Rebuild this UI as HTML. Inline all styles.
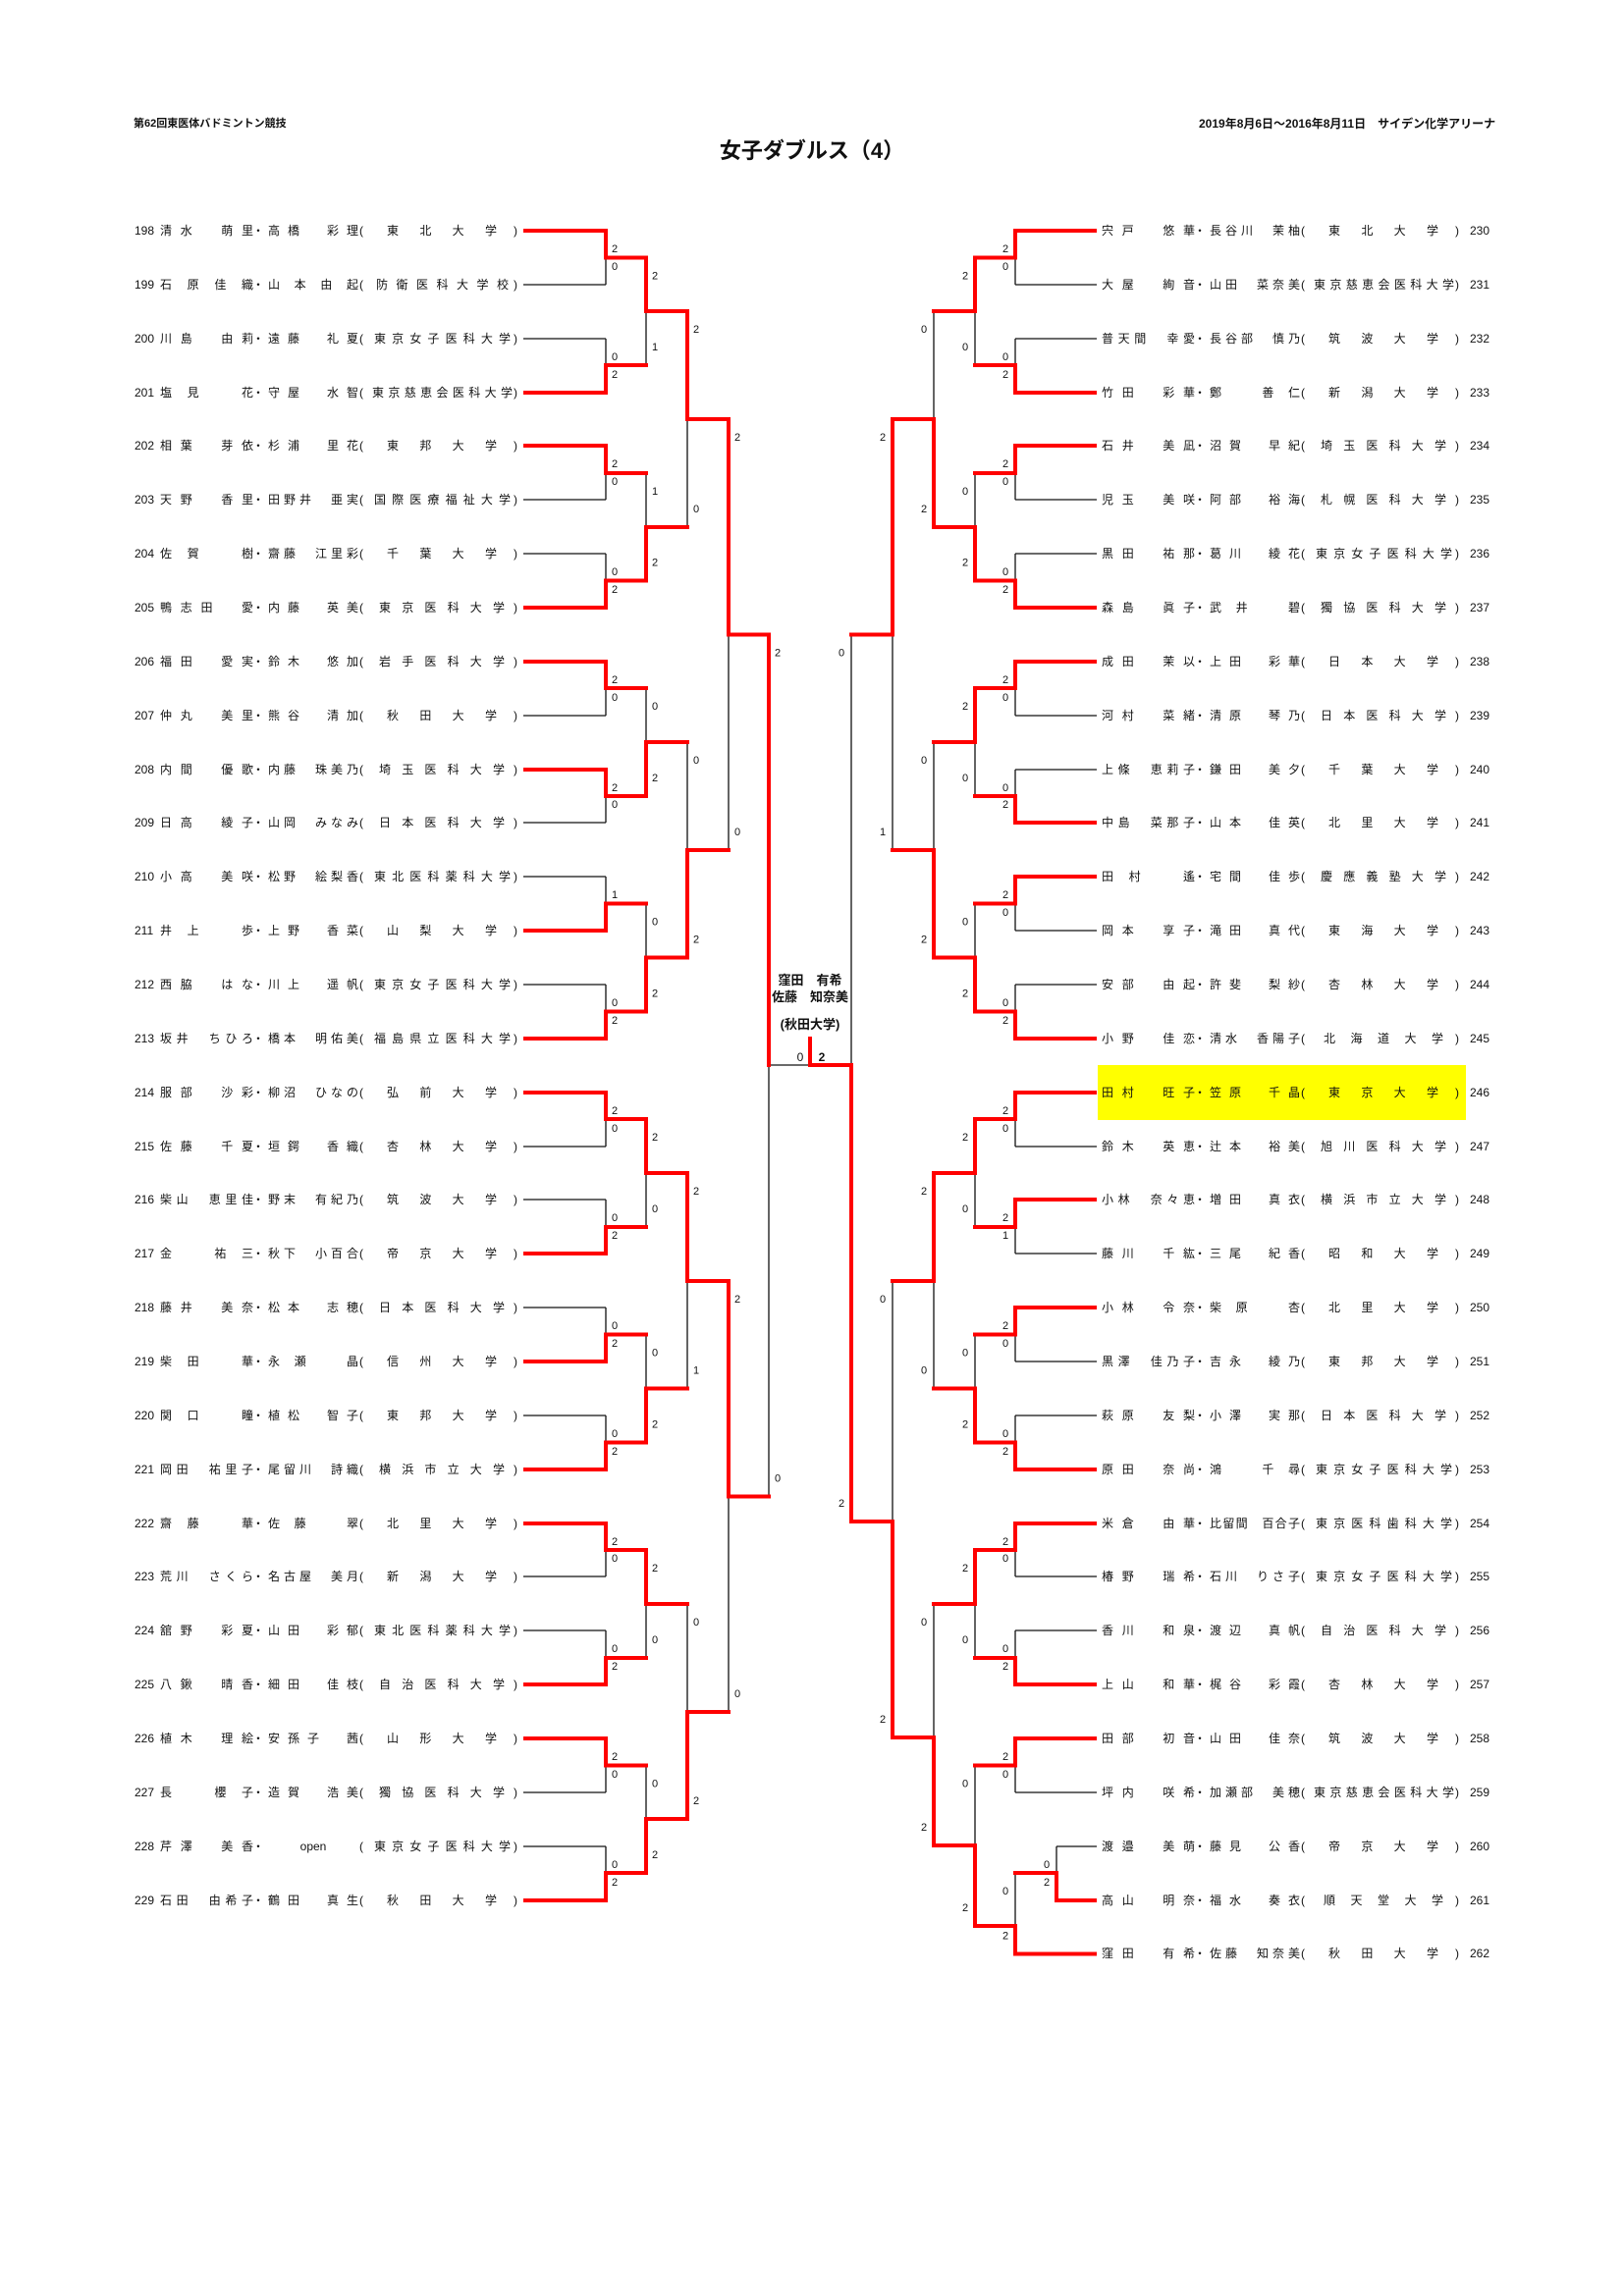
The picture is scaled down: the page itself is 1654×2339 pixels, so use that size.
<!DOCTYPE html>
<html><head><meta charset="utf-8">
<style>
html,body{margin:0;padding:0;background:#fff;}
#pg{position:relative;width:1654px;height:2339px;overflow:hidden;background:#fff;font-family:"Liberation Sans","Noto Sans CJK JP",sans-serif;color:#111;}
svg{position:absolute;left:0;top:0;}
.h{position:absolute;font-size:11px;white-space:nowrap;font-weight:bold;}
.t{position:absolute;left:0;width:1654px;top:136px;text-align:center;font-size:22px;font-weight:bold;}
.r{position:absolute;left:0;width:1654px;height:18px;font-size:12px;line-height:18px;}
.r span{position:absolute;top:0;white-space:nowrap;display:block;box-sizing:border-box;}
.n{left:137px;font-family:"Liberation Sans Narrow","Liberation Sans",sans-serif;font-size:12px;}
.a{left:163px;width:95px;}
.d{left:257px;width:12px;text-align:center;}
.b{left:273px;width:92px;}
.p{left:366px;}
.u{left:376px;width:146px;}
.q{left:523px;}
.a,.b,.u{text-align:justify;text-align-last:justify;text-justify:inter-character;}
.R .a{left:1122px}.R .d{left:1216px}.R .b{left:1232px}.R .p{left:1325px}.R .u{left:1335px}.R .q{left:1482px}.R .n{left:1497px}
.u4{padding:0 16px 0 18px}.u5{padding:0 11px 0 13px}.u6{padding:0 8px 0 10px}.u7{padding:0 4px 0 7px}.u8{padding:0 2px 0 5px}.u9{padding:0 0 0 3px}
.c{position:absolute;left:725px;width:200px;text-align:center;font-size:13px;font-weight:bold;}
</style></head><body><div id="pg">
<svg width="1654" height="2339" viewBox="0 0 1654 2339">
<rect x="1118" y="1085" width="375" height="56" fill="#ffff00"/>
<path fill="none" stroke="#111" stroke-width="1.3" d="
M533 290H617 M533 345H617 M533 509H617 M533 564H617 M533 729H617 M533 838H617 M533 893H617 M533 1003H617 M533 1168H617 M533 1222H617 M533 1332H617 M533 1442H617 M533 1606H617 M533 1661H617 M533 1826H617 M533 1881H617
M617 235V290 M617 345V400 M617 454V509 M617 564V619 M617 674V729 M617 784V838 M617 893V948 M617 1003V1058 M617 1113V1168 M617 1222V1277 M617 1332V1387 M617 1442V1497 M617 1552V1606 M617 1661V1716 M617 1771V1826 M617 1881V1936
M658 262.5V372 M658 482V591.5 M658 701V811 M658 920.5V1030.5 M658 1140V1250 M658 1359.5V1469.5 M658 1579V1689 M658 1798.5V1908
M700 317V537 M700 756V975.5 M700 1195V1414.5 M700 1634V1853
M742 427V866 M742 1305V1744
M783 646.5V1524.5 M783 1085H825
M1034 290H1117 M1034 345H1117 M1034 509H1117 M1034 564H1117 M1034 729H1117 M1034 784H1117 M1034 948H1117 M1034 1003H1117 M1034 1168H1117 M1034 1277H1117 M1034 1387H1117 M1034 1442H1117 M1034 1606H1117 M1034 1661H1117 M1034 1826H1117 M1076 1881H1117
M1034 235V290 M1034 345V400 M1034 454V509 M1034 564V619 M1034 674V729 M1034 784V838 M1034 893V948 M1034 1003V1058 M1034 1113V1168 M1034 1222V1277 M1034 1332V1387 M1034 1442V1497 M1034 1552V1606 M1034 1661V1716 M1034 1771V1826 M1034 1908V1990.5
M1076 1881V1936
M993 262.5V372 M993 482V591.5 M993 701V811 M993 920.5V1030.5 M993 1140V1250 M993 1359.5V1469.5 M993 1579V1689 M993 1798.5V1962
M951 317V537 M951 756V975.5 M951 1195V1414.5 M951 1634V1880
M909 427V866 M909 1305V1770
M867 646.5V1550"/>
<path fill="none" stroke="#ff0000" stroke-width="4" stroke-linecap="square" stroke-linejoin="miter" d="
M535 235H617V262.5H658 M535 400H617V372H658 M535 454H617V482H658 M535 619H617V591.5H658 M535 674H617V701H658 M535 784H617V811H658 M535 948H617V920.5H658 M535 1058H617V1030.5H658 M535 1113H617V1140H658 M535 1277H617V1250H658 M535 1387H617V1359.5H658 M535 1497H617V1469.5H658 M535 1552H617V1579H658 M535 1716H617V1689H658 M535 1771H617V1798.5H658 M535 1936H617V1908H658
M658 262.5V317H700 M658 591.5V537H700 M658 811V756H700 M658 1030.5V975.5H700 M658 1140V1195H700 M658 1469.5V1414.5H700 M658 1579V1634H700 M658 1908V1853H700
M700 317V427H742 M700 975.5V866H742 M700 1195V1305H742 M700 1853V1744H742
M742 427V646.5H783 M742 1305V1524.5H783
M783 646.5V1085
M825 1085H867 M825 1058V1085
M1115 235H1034V262.5H993 M1115 400H1034V372H993 M1115 454H1034V482H993 M1115 619H1034V591.5H993 M1115 674H1034V701H993 M1115 838H1034V811H993 M1115 893H1034V920.5H993 M1115 1058H1034V1030.5H993 M1115 1113H1034V1140H993 M1115 1222H1034V1250H993 M1115 1332H1034V1359.5H993 M1115 1497H1034V1469.5H993 M1115 1552H1034V1579H993 M1115 1716H1034V1689H993 M1115 1771H1034V1798.5H993
M1115 1936H1076V1908H1034 M1115 1990.5H1034V1962H993
M993 262.5V317H951 M993 591.5V537H951 M993 701V756H951 M993 1030.5V975.5H951 M993 1140V1195H951 M993 1469.5V1414.5H951 M993 1579V1634H951 M993 1962V1880H951
M951 537V427H909 M951 975.5V866H909 M951 1195V1305H909 M951 1880V1770H909
M909 427V646.5H867 M909 1770V1550H867
M867 1550V1085"/>
<g font-family="Liberation Sans, sans-serif" font-size="11" text-anchor="middle" dominant-baseline="central" fill="#111">
<text x="626" y="254">2</text><text x="626" y="272">0</text>
<text x="626" y="364">0</text><text x="626" y="382">2</text>
<text x="626" y="473">2</text><text x="626" y="491">0</text>
<text x="626" y="583">0</text><text x="626" y="601">2</text>
<text x="626" y="693">2</text><text x="626" y="711">0</text>
<text x="626" y="803">2</text><text x="626" y="820">0</text>
<text x="626" y="912">1</text>
<text x="626" y="1022">0</text><text x="626" y="1040">2</text>
<text x="626" y="1132">2</text><text x="626" y="1150">0</text>
<text x="626" y="1241">0</text><text x="626" y="1259">2</text>
<text x="626" y="1351">0</text><text x="626" y="1369">2</text>
<text x="626" y="1461">0</text><text x="626" y="1479">2</text>
<text x="626" y="1571">2</text><text x="626" y="1588">0</text>
<text x="626" y="1680">0</text><text x="626" y="1698">2</text>
<text x="626" y="1790">2</text><text x="626" y="1808">0</text>
<text x="626" y="1900">0</text><text x="626" y="1918">2</text>
<text x="667" y="281.5">2</text><text x="667" y="354">1</text>
<text x="667" y="501">1</text><text x="667" y="573.5">2</text>
<text x="667" y="720">0</text><text x="667" y="793">2</text>
<text x="667" y="939.5">0</text><text x="667" y="1012.5">2</text>
<text x="667" y="1159">2</text><text x="667" y="1232">0</text>
<text x="667" y="1378.5">0</text><text x="667" y="1451.5">2</text>
<text x="667" y="1598">2</text><text x="667" y="1671">0</text>
<text x="667" y="1817.5">0</text><text x="667" y="1890">2</text>
<text x="709" y="336">2</text><text x="709" y="519">0</text>
<text x="709" y="775">0</text><text x="709" y="957.5">2</text>
<text x="709" y="1214">2</text><text x="709" y="1396.5">1</text>
<text x="709" y="1653">0</text><text x="709" y="1835">2</text>
<text x="751" y="446">2</text><text x="751" y="848">0</text>
<text x="751" y="1324">2</text><text x="751" y="1726">0</text>
<text x="792" y="665.5">2</text><text x="792" y="1506.5">0</text>
<text x="1024" y="254">2</text><text x="1024" y="272">0</text>
<text x="1024" y="364">0</text><text x="1024" y="382">2</text>
<text x="1024" y="473">2</text><text x="1024" y="491">0</text>
<text x="1024" y="583">0</text><text x="1024" y="601">2</text>
<text x="1024" y="693">2</text><text x="1024" y="711">0</text>
<text x="1024" y="803">0</text><text x="1024" y="820">2</text>
<text x="1024" y="912">2</text><text x="1024" y="930">0</text>
<text x="1024" y="1022">0</text><text x="1024" y="1040">2</text>
<text x="1024" y="1132">2</text><text x="1024" y="1150">0</text>
<text x="1024" y="1241">2</text><text x="1024" y="1259">1</text>
<text x="1024" y="1351">2</text><text x="1024" y="1369">0</text>
<text x="1024" y="1461">0</text><text x="1024" y="1479">2</text>
<text x="1024" y="1571">2</text><text x="1024" y="1588">0</text>
<text x="1024" y="1680">0</text><text x="1024" y="1698">2</text>
<text x="1024" y="1790">2</text><text x="1024" y="1808">0</text>
<text x="1024" y="1927">0</text><text x="1024" y="1972.5">2</text>
<text x="1066" y="1900">0</text><text x="1066" y="1918">2</text>
<text x="983" y="281.5">2</text><text x="983" y="354">0</text>
<text x="983" y="501">0</text><text x="983" y="573.5">2</text>
<text x="983" y="720">2</text><text x="983" y="793">0</text>
<text x="983" y="939.5">0</text><text x="983" y="1012.5">2</text>
<text x="983" y="1159">2</text><text x="983" y="1232">0</text>
<text x="983" y="1378.5">0</text><text x="983" y="1451.5">2</text>
<text x="983" y="1598">2</text><text x="983" y="1671">0</text>
<text x="983" y="1817.5">0</text><text x="983" y="1944">2</text>
<text x="941" y="336">0</text><text x="941" y="519">2</text>
<text x="941" y="775">0</text><text x="941" y="957.5">2</text>
<text x="941" y="1214">2</text><text x="941" y="1396.5">0</text>
<text x="941" y="1653">0</text><text x="941" y="1862">2</text>
<text x="899" y="446">2</text><text x="899" y="848">1</text>
<text x="899" y="1324">0</text><text x="899" y="1752">2</text>
<text x="857" y="665.5">0</text><text x="857" y="1532">2</text>
<text x="815" y="1077" font-size="12">0</text><text x="837" y="1077" font-size="12" font-weight="bold">2</text>
</g>
</svg>
<div class="h" style="left:136px;top:117px;">第62回東医体バドミントン競技</div>
<div class="h" style="left:1221px;top:117px;font-size:12px;">2019年8月6日～2016年8月11日　サイデン化学アリーナ</div>
<div class="t">女子ダブルス（4）</div>
<div class="c" style="top:988px;">窪田　有希</div>
<div class="c" style="top:1005px;">佐藤　知奈美</div>
<div class="c" style="top:1033px;">(秋田大学)</div>

<div class="r" style="top:226px"><span class="n">198</span><span class="a">清水　萌里</span><span class="d">・</span><span class="b">高橋　彩理</span><span class="p">(</span><span class="u u4">東北大学</span><span class="q">)</span></div>
<div class="r" style="top:281px"><span class="n">199</span><span class="a">石原佳織</span><span class="d">・</span><span class="b">山本由起</span><span class="p">(</span><span class="u u7">防衛医科大学校</span><span class="q">)</span></div>
<div class="r" style="top:336px"><span class="n">200</span><span class="a">川島　由莉</span><span class="d">・</span><span class="b">遠藤　礼夏</span><span class="p">(</span><span class="u u8">東京女子医科大学</span><span class="q">)</span></div>
<div class="r" style="top:391px"><span class="n">201</span><span class="a">塩見　花</span><span class="d">・</span><span class="b">守屋　水智</span><span class="p">(</span><span class="u u9">東京慈恵会医科大学</span><span class="q">)</span></div>
<div class="r" style="top:445px"><span class="n">202</span><span class="a">相葉　芽依</span><span class="d">・</span><span class="b">杉浦　里花</span><span class="p">(</span><span class="u u4">東邦大学</span><span class="q">)</span></div>
<div class="r" style="top:500px"><span class="n">203</span><span class="a">天野　香里</span><span class="d">・</span><span class="b">田野井　亜実</span><span class="p">(</span><span class="u u8">国際医療福祉大学</span><span class="q">)</span></div>
<div class="r" style="top:555px"><span class="n">204</span><span class="a">佐賀　樹</span><span class="d">・</span><span class="b">齋藤　江里彩</span><span class="p">(</span><span class="u u4">千葉大学</span><span class="q">)</span></div>
<div class="r" style="top:610px"><span class="n">205</span><span class="a">鴨志田　愛</span><span class="d">・</span><span class="b">内藤　英美</span><span class="p">(</span><span class="u u6">東京医科大学</span><span class="q">)</span></div>
<div class="r" style="top:665px"><span class="n">206</span><span class="a">福田　愛実</span><span class="d">・</span><span class="b">鈴木　悠加</span><span class="p">(</span><span class="u u6">岩手医科大学</span><span class="q">)</span></div>
<div class="r" style="top:720px"><span class="n">207</span><span class="a">仲丸　美里</span><span class="d">・</span><span class="b">熊谷　清加</span><span class="p">(</span><span class="u u4">秋田大学</span><span class="q">)</span></div>
<div class="r" style="top:775px"><span class="n">208</span><span class="a">内間　優歌</span><span class="d">・</span><span class="b">内藤　珠美乃</span><span class="p">(</span><span class="u u6">埼玉医科大学</span><span class="q">)</span></div>
<div class="r" style="top:829px"><span class="n">209</span><span class="a">日高　綾子</span><span class="d">・</span><span class="b">山岡　みなみ</span><span class="p">(</span><span class="u u6">日本医科大学</span><span class="q">)</span></div>
<div class="r" style="top:884px"><span class="n">210</span><span class="a">小高　美咲</span><span class="d">・</span><span class="b">松野　絵梨香</span><span class="p">(</span><span class="u u8">東北医科薬科大学</span><span class="q">)</span></div>
<div class="r" style="top:939px"><span class="n">211</span><span class="a">井上　歩</span><span class="d">・</span><span class="b">上野　香菜</span><span class="p">(</span><span class="u u4">山梨大学</span><span class="q">)</span></div>
<div class="r" style="top:994px"><span class="n">212</span><span class="a">西脇　はな</span><span class="d">・</span><span class="b">川上　遥帆</span><span class="p">(</span><span class="u u8">東京女子医科大学</span><span class="q">)</span></div>
<div class="r" style="top:1049px"><span class="n">213</span><span class="a">坂井　ちひろ</span><span class="d">・</span><span class="b">橋本　明佑美</span><span class="p">(</span><span class="u u8">福島県立医科大学</span><span class="q">)</span></div>
<div class="r" style="top:1104px"><span class="n">214</span><span class="a">服部　沙彩</span><span class="d">・</span><span class="b">柳沼　ひなの</span><span class="p">(</span><span class="u u4">弘前大学</span><span class="q">)</span></div>
<div class="r" style="top:1159px"><span class="n">215</span><span class="a">佐藤　千夏</span><span class="d">・</span><span class="b">垣鍔　香織</span><span class="p">(</span><span class="u u4">杏林大学</span><span class="q">)</span></div>
<div class="r" style="top:1213px"><span class="n">216</span><span class="a">柴山　恵里佳</span><span class="d">・</span><span class="b">野末　有紀乃</span><span class="p">(</span><span class="u u4">筑波大学</span><span class="q">)</span></div>
<div class="r" style="top:1268px"><span class="n">217</span><span class="a">金　祐三</span><span class="d">・</span><span class="b">秋下　小百合</span><span class="p">(</span><span class="u u4">帝京大学</span><span class="q">)</span></div>
<div class="r" style="top:1323px"><span class="n">218</span><span class="a">藤井　美奈</span><span class="d">・</span><span class="b">松本　志穂</span><span class="p">(</span><span class="u u6">日本医科大学</span><span class="q">)</span></div>
<div class="r" style="top:1378px"><span class="n">219</span><span class="a">柴田　華</span><span class="d">・</span><span class="b">永瀬　晶</span><span class="p">(</span><span class="u u4">信州大学</span><span class="q">)</span></div>
<div class="r" style="top:1433px"><span class="n">220</span><span class="a">関口　瞳</span><span class="d">・</span><span class="b">植松　智子</span><span class="p">(</span><span class="u u4">東邦大学</span><span class="q">)</span></div>
<div class="r" style="top:1488px"><span class="n">221</span><span class="a">岡田　祐里子</span><span class="d">・</span><span class="b">尾留川　詩織</span><span class="p">(</span><span class="u u6">横浜市立大学</span><span class="q">)</span></div>
<div class="r" style="top:1543px"><span class="n">222</span><span class="a">齋藤　華</span><span class="d">・</span><span class="b">佐藤　翠</span><span class="p">(</span><span class="u u4">北里大学</span><span class="q">)</span></div>
<div class="r" style="top:1597px"><span class="n">223</span><span class="a">荒川　さくら</span><span class="d">・</span><span class="b">名古屋　美月</span><span class="p">(</span><span class="u u4">新潟大学</span><span class="q">)</span></div>
<div class="r" style="top:1652px"><span class="n">224</span><span class="a">舘野　彩夏</span><span class="d">・</span><span class="b">山田　彩郁</span><span class="p">(</span><span class="u u8">東北医科薬科大学</span><span class="q">)</span></div>
<div class="r" style="top:1707px"><span class="n">225</span><span class="a">八鍬　晴香</span><span class="d">・</span><span class="b">細田　佳枝</span><span class="p">(</span><span class="u u6">自治医科大学</span><span class="q">)</span></div>
<div class="r" style="top:1762px"><span class="n">226</span><span class="a">植木　理絵</span><span class="d">・</span><span class="b">安孫子　茜</span><span class="p">(</span><span class="u u4">山形大学</span><span class="q">)</span></div>
<div class="r" style="top:1817px"><span class="n">227</span><span class="a">長　櫻子</span><span class="d">・</span><span class="b">造賀　浩美</span><span class="p">(</span><span class="u u6">獨協医科大学</span><span class="q">)</span></div>
<div class="r" style="top:1872px"><span class="n">228</span><span class="a">芹澤　美香</span><span class="d">・</span><span class="b" style="text-align:center;text-align-last:center">open</span><span class="p">(</span><span class="u u8">東京女子医科大学</span><span class="q">)</span></div>
<div class="r" style="top:1927px"><span class="n">229</span><span class="a">石田　由希子</span><span class="d">・</span><span class="b">鶴田　真生</span><span class="p">(</span><span class="u u4">秋田大学</span><span class="q">)</span></div>

<div class="r R" style="top:226px"><span class="a">宍戸　悠華</span><span class="d">・</span><span class="b">長谷川　茉柚</span><span class="p">(</span><span class="u u4">東北大学</span><span class="q">)</span><span class="n">230</span></div>
<div class="r R" style="top:281px"><span class="a">大屋　絢音</span><span class="d">・</span><span class="b">山田　菜奈美</span><span class="p">(</span><span class="u u9">東京慈恵会医科大学</span><span class="q">)</span><span class="n">231</span></div>
<div class="r R" style="top:336px"><span class="a">普天間　幸愛</span><span class="d">・</span><span class="b">長谷部　慎乃</span><span class="p">(</span><span class="u u4">筑波大学</span><span class="q">)</span><span class="n">232</span></div>
<div class="r R" style="top:391px"><span class="a">竹田　彩華</span><span class="d">・</span><span class="b">鄭　善仁</span><span class="p">(</span><span class="u u4">新潟大学</span><span class="q">)</span><span class="n">233</span></div>
<div class="r R" style="top:445px"><span class="a">石井　美凪</span><span class="d">・</span><span class="b">沼賀　早紀</span><span class="p">(</span><span class="u u6">埼玉医科大学</span><span class="q">)</span><span class="n">234</span></div>
<div class="r R" style="top:500px"><span class="a">児玉　美咲</span><span class="d">・</span><span class="b">阿部　裕海</span><span class="p">(</span><span class="u u6">札幌医科大学</span><span class="q">)</span><span class="n">235</span></div>
<div class="r R" style="top:555px"><span class="a">黒田　祐那</span><span class="d">・</span><span class="b">葛川　綾花</span><span class="p">(</span><span class="u u8">東京女子医科大学</span><span class="q">)</span><span class="n">236</span></div>
<div class="r R" style="top:610px"><span class="a">森島　眞子</span><span class="d">・</span><span class="b">武井　碧</span><span class="p">(</span><span class="u u6">獨協医科大学</span><span class="q">)</span><span class="n">237</span></div>
<div class="r R" style="top:665px"><span class="a">成田　茉以</span><span class="d">・</span><span class="b">上田　彩華</span><span class="p">(</span><span class="u u4">日本大学</span><span class="q">)</span><span class="n">238</span></div>
<div class="r R" style="top:720px"><span class="a">河村　菜緒</span><span class="d">・</span><span class="b">清原　琴乃</span><span class="p">(</span><span class="u u6">日本医科大学</span><span class="q">)</span><span class="n">239</span></div>
<div class="r R" style="top:775px"><span class="a">上條　恵莉子</span><span class="d">・</span><span class="b">鎌田　美夕</span><span class="p">(</span><span class="u u4">千葉大学</span><span class="q">)</span><span class="n">240</span></div>
<div class="r R" style="top:829px"><span class="a">中島　菜那子</span><span class="d">・</span><span class="b">山本　佳英</span><span class="p">(</span><span class="u u4">北里大学</span><span class="q">)</span><span class="n">241</span></div>
<div class="r R" style="top:884px"><span class="a">田村　遙</span><span class="d">・</span><span class="b">宅間　佳歩</span><span class="p">(</span><span class="u u6">慶應義塾大学</span><span class="q">)</span><span class="n">242</span></div>
<div class="r R" style="top:939px"><span class="a">岡本　享子</span><span class="d">・</span><span class="b">滝田　真代</span><span class="p">(</span><span class="u u4">東海大学</span><span class="q">)</span><span class="n">243</span></div>
<div class="r R" style="top:994px"><span class="a">安部　由起</span><span class="d">・</span><span class="b">許斐　梨紗</span><span class="p">(</span><span class="u u4">杏林大学</span><span class="q">)</span><span class="n">244</span></div>
<div class="r R" style="top:1049px"><span class="a">小野　佳恋</span><span class="d">・</span><span class="b">清水　香陽子</span><span class="p">(</span><span class="u u5">北海道大学</span><span class="q">)</span><span class="n">245</span></div>
<div class="r R" style="top:1104px"><span class="a">田村　旺子</span><span class="d">・</span><span class="b">笠原　千晶</span><span class="p">(</span><span class="u u4">東京大学</span><span class="q">)</span><span class="n">246</span></div>
<div class="r R" style="top:1159px"><span class="a">鈴木　英恵</span><span class="d">・</span><span class="b">辻本　裕美</span><span class="p">(</span><span class="u u6">旭川医科大学</span><span class="q">)</span><span class="n">247</span></div>
<div class="r R" style="top:1213px"><span class="a">小林　奈々恵</span><span class="d">・</span><span class="b">増田　真衣</span><span class="p">(</span><span class="u u6">横浜市立大学</span><span class="q">)</span><span class="n">248</span></div>
<div class="r R" style="top:1268px"><span class="a">藤川　千紘</span><span class="d">・</span><span class="b">三尾　紀香</span><span class="p">(</span><span class="u u4">昭和大学</span><span class="q">)</span><span class="n">249</span></div>
<div class="r R" style="top:1323px"><span class="a">小林　令奈</span><span class="d">・</span><span class="b">柴原　杏</span><span class="p">(</span><span class="u u4">北里大学</span><span class="q">)</span><span class="n">250</span></div>
<div class="r R" style="top:1378px"><span class="a">黒澤　佳乃子</span><span class="d">・</span><span class="b">吉永　綾乃</span><span class="p">(</span><span class="u u4">東邦大学</span><span class="q">)</span><span class="n">251</span></div>
<div class="r R" style="top:1433px"><span class="a">萩原　友梨</span><span class="d">・</span><span class="b">小澤　実那</span><span class="p">(</span><span class="u u6">日本医科大学</span><span class="q">)</span><span class="n">252</span></div>
<div class="r R" style="top:1488px"><span class="a">原田　奈尚</span><span class="d">・</span><span class="b">鴻　千尋</span><span class="p">(</span><span class="u u8">東京女子医科大学</span><span class="q">)</span><span class="n">253</span></div>
<div class="r R" style="top:1543px"><span class="a">米倉　由華</span><span class="d">・</span><span class="b">比留間　百合子</span><span class="p">(</span><span class="u u8">東京医科歯科大学</span><span class="q">)</span><span class="n">254</span></div>
<div class="r R" style="top:1597px"><span class="a">椿野　瑞希</span><span class="d">・</span><span class="b">石川　りさ子</span><span class="p">(</span><span class="u u8">東京女子医科大学</span><span class="q">)</span><span class="n">255</span></div>
<div class="r R" style="top:1652px"><span class="a">香川　和泉</span><span class="d">・</span><span class="b">渡辺　真帆</span><span class="p">(</span><span class="u u6">自治医科大学</span><span class="q">)</span><span class="n">256</span></div>
<div class="r R" style="top:1707px"><span class="a">上山　和華</span><span class="d">・</span><span class="b">梶谷　彩霞</span><span class="p">(</span><span class="u u4">杏林大学</span><span class="q">)</span><span class="n">257</span></div>
<div class="r R" style="top:1762px"><span class="a">田部　初音</span><span class="d">・</span><span class="b">山田　佳奈</span><span class="p">(</span><span class="u u4">筑波大学</span><span class="q">)</span><span class="n">258</span></div>
<div class="r R" style="top:1817px"><span class="a">坪内　咲希</span><span class="d">・</span><span class="b">加瀬部　美穂</span><span class="p">(</span><span class="u u9">東京慈恵会医科大学</span><span class="q">)</span><span class="n">259</span></div>
<div class="r R" style="top:1872px"><span class="a">渡邉　美萌</span><span class="d">・</span><span class="b">藤見　公香</span><span class="p">(</span><span class="u u4">帝京大学</span><span class="q">)</span><span class="n">260</span></div>
<div class="r R" style="top:1927px"><span class="a">高山　明奈</span><span class="d">・</span><span class="b">福水　奏衣</span><span class="p">(</span><span class="u u5">順天堂大学</span><span class="q">)</span><span class="n">261</span></div>
<div class="r R" style="top:1981px"><span class="a">窪田　有希</span><span class="d">・</span><span class="b">佐藤　知奈美</span><span class="p">(</span><span class="u u4">秋田大学</span><span class="q">)</span><span class="n">262</span></div>
</div></body></html>
